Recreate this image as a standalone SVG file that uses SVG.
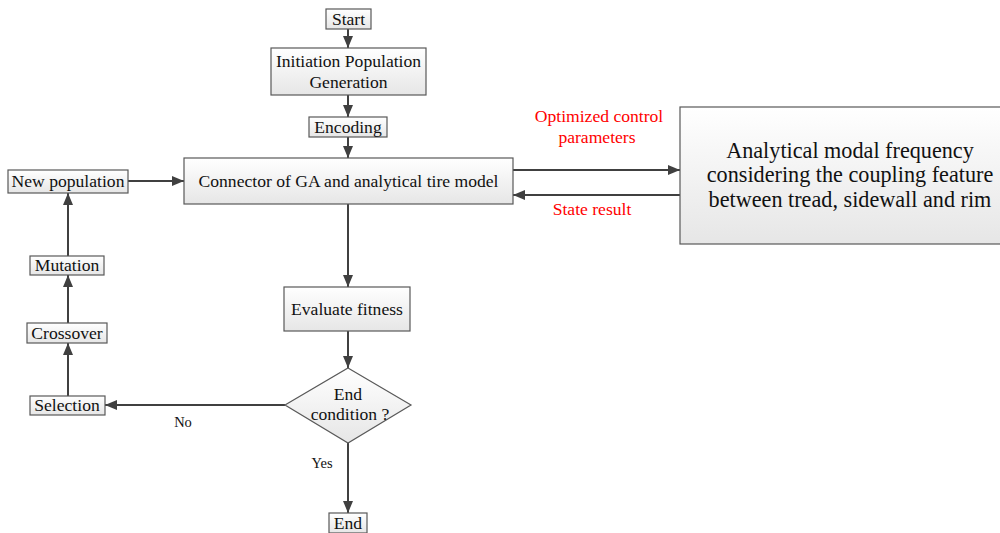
<svg xmlns="http://www.w3.org/2000/svg" width="1000" height="533" viewBox="0 0 1000 533">
<style>
.box{fill:url(#g);stroke:#595959;stroke-width:1.2}
.t{font-family:"Liberation Serif",serif;font-size:17.6px;fill:#111;text-anchor:middle}
.big{font-size:22.2px}
.red{fill:#ff0000}
.sm{font-size:14.5px}
.c{stroke:#404040;stroke-width:2;fill:none;marker-end:url(#ah)}
</style>
<defs>
<linearGradient id="g" x1="0" y1="0" x2="0" y2="1"><stop offset="0" stop-color="#ffffff"/><stop offset="1" stop-color="#e6e6e6"/></linearGradient>
<marker id="ah" viewBox="0 0 12 10" refX="12" refY="5" markerWidth="12" markerHeight="10" markerUnits="userSpaceOnUse" orient="auto"><path d="M0,0 L12,5 L0,10 z" fill="#404040"/></marker>
</defs>
<rect width="1000" height="533" fill="#fff"/>
<g id="connectors">
<path class="c" d="M348,29 V48"/>
<path class="c" d="M348,95 V117"/>
<path class="c" d="M348,137 V158"/>
<path class="c" d="M128,181 H184"/>
<path class="c" d="M513,170 H680"/>
<path class="c" d="M680,195 H513"/>
<path class="c" d="M348,204 V287"/>
<path class="c" d="M348,331 V368"/>
<path class="c" d="M285,405 H105"/>
<path class="c" d="M348,443 V513"/>
<path class="c" d="M68,396 V343"/>
<path class="c" d="M68,323 V275"/>
<path class="c" d="M68,256 V193"/>
<text class="t red" x="599" y="122">Optimized control</text>
<text class="t red" x="597" y="143">parameters</text>
<text class="t red" x="592" y="215">State result</text>
<text class="t sm" x="183" y="427">No</text>
<text class="t sm" x="322" y="468">Yes</text>
</g>
<g id="start"><rect class="box" x="326" y="9" width="45" height="20"/><text class="t" x="348.5" y="25">Start</text></g>
<g id="init"><rect class="box" x="271" y="48" width="155" height="47"/><text class="t" x="348.5" y="67">Initiation Population</text><text class="t" x="348.5" y="88">Generation</text></g>
<g id="encoding"><rect class="box" x="309" y="117" width="78" height="20"/><text class="t" x="348" y="133">Encoding</text></g>
<g id="connector"><rect class="box" x="184" y="158" width="329" height="46"/><text class="t" x="348.5" y="187">Connector of GA and analytical tire model</text></g>
<g id="newpop"><rect class="box" x="8" y="170" width="120" height="23"/><text class="t" x="68" y="187">New population</text></g>
<g id="model"><rect class="box" x="680" y="107" width="325" height="137"/><text class="t big" x="850" y="158">Analytical modal frequency</text><text class="t big" x="850" y="182">considering the coupling feature</text><text class="t big" x="850" y="207">between tread, sidewall and rim</text></g>
<g id="mutation"><rect class="box" x="30" y="256" width="74" height="19"/><text class="t" x="67" y="271">Mutation</text></g>
<g id="crossover"><rect class="box" x="27" y="323" width="80" height="20"/><text class="t" x="67" y="339">Crossover</text></g>
<g id="selection"><rect class="box" x="30" y="396" width="75" height="19"/><text class="t" x="67" y="411">Selection</text></g>
<g id="evaluate"><rect class="box" x="284" y="287" width="126" height="44"/><text class="t" x="347" y="315">Evaluate fitness</text></g>
<g id="endcond"><path class="box" d="M348,368 L411,405 L348,443 L285,405 Z"/><text class="t" x="348" y="400">End</text><text class="t" x="350" y="420">condition ?</text></g>
<g id="end"><rect class="box" x="329" y="513" width="38" height="20"/><text class="t" x="348" y="529">End</text></g>
</svg>
